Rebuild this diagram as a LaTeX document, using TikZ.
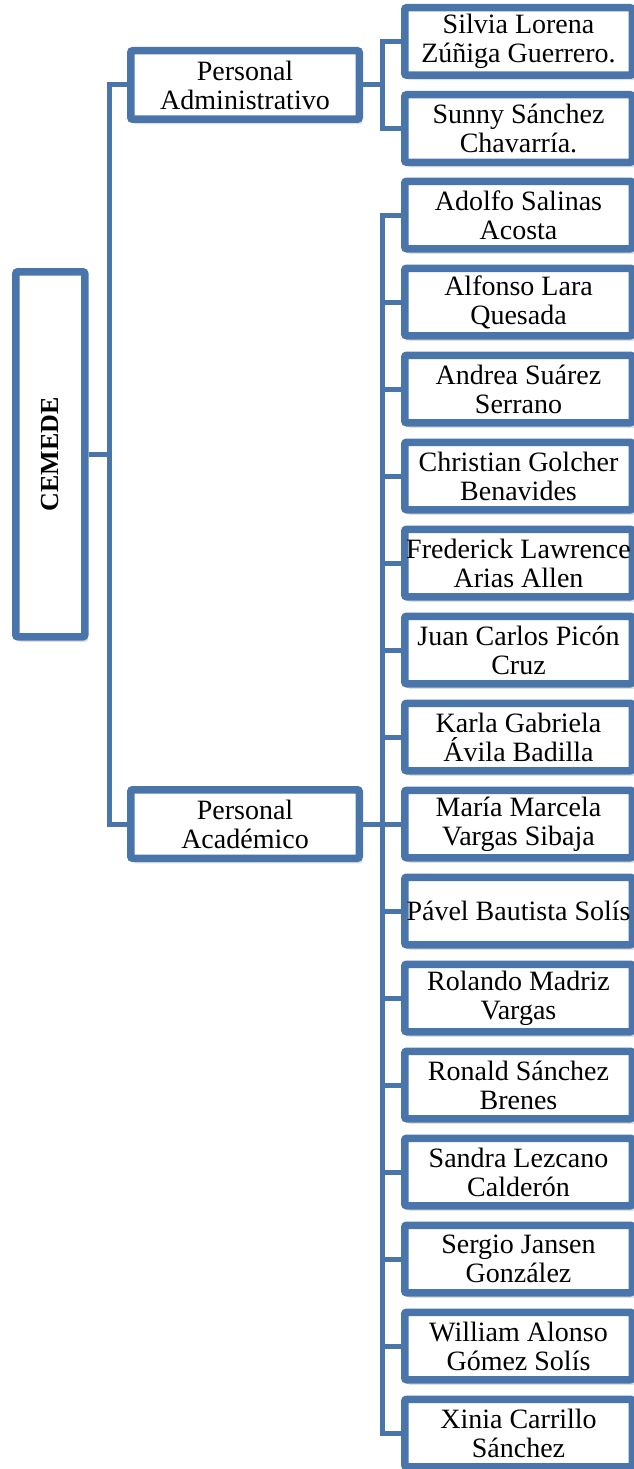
\documentclass[tikz,border=0pt]{standalone}
\usepackage{fontspec}
\setmainfont{Liberation Serif}
\usetikzlibrary{positioning, shadows}
\definecolor{boxblue}{RGB}{74,117,170}
\tikzset{box/.style={draw=boxblue, line width=7.5pt, fill=white, rounded corners=2pt, align=center, inner sep=0pt, font=\fontsize{28}{29}\selectfont, drop shadow={shadow xshift=3pt, shadow yshift=-5pt, opacity=0.25}},
	person/.style={box, minimum width=227.5pt, minimum height=67.5pt},
	group/.style={box, minimum width=228.5pt, minimum height=68.5pt},
	link/.style={draw=boxblue, line width=5pt}}

\begin{document}
\begin{tikzpicture}[x=1pt, y=1pt, node distance=12pt]
	\useasboundingbox (0,0) rectangle (634,-1469);
	% head of the chart
	\node[box, minimum width=69pt, minimum height=365pt] (CEMEDE) at (50.3,-454.3) {\rotatebox{90}{\fontsize{26}{28}\selectfont\bfseries CEMEDE}};
	\node[group] (Admin) at (245,-85) {Personal\\ Administrativo};
	% administrative staff
	\node[person] (Silvia) at (518.5,-41.5) {Silvia Lorena\\ Zúñiga Guerrero.};
	\node[person, below=of Silvia] (Sunny) {Sunny Sánchez\\ Chavarría.};
	% academic staff
	\node[person] (Adolfo) at (518.5,-215) {Adolfo Salinas\\ Acosta};
	\node[person, below=of Adolfo] (Alfonso) {Alfonso Lara\\ Quesada};
	\node[person, below=of Alfonso] (Andrea) {Andrea Suárez\\ Serrano};
	\node[person, below=of Andrea] (Christian) {Christian Golcher\\ Benavides};
	\node[person, below=of Christian] (Frederick) {Frederick Lawrence\\ Arias Allen};
	\node[person, below=of Frederick] (Juan) {Juan Carlos Picón\\ Cruz};
	\node[person, below=of Juan] (Karla) {Karla Gabriela\\ Ávila Badilla};
	\node[person, below=of Karla] (Maria) {María Marcela\\ Vargas Sibaja};
	\node[person, below=of Maria] (Pavel) {Pável Bautista Solís};
	\node[person, below=of Pavel] (Rolando) {Rolando Madriz\\ Vargas};
	\node[person, below=of Rolando] (Ronald) {Ronald Sánchez\\ Brenes};
	\node[person, below=of Ronald] (Sandra) {Sandra Lezcano\\ Calderón};
	\node[person, below=of Sandra] (Sergio) {Sergio Jansen\\ González};
	\node[person, below=of Sergio] (William) {William Alonso\\ Gómez Solís};
	\node[person, below=of William] (Xinia) {Xinia Carrillo\\ Sánchez};
	\node[group, left=38pt of Maria] (Acad) {Personal\\ Académico};

	\coordinate (spine) at (109,-454.3);
	\coordinate (forkA) at (382.5,-85);
	\coordinate (forkB) at (382.5,-824);

	\draw[link]
		(CEMEDE.east) -- (spine)
		(Admin.west) -| (spine) |- (Acad.west)
		(Admin.east) -- (forkA)
		(Silvia.west) -| (forkA) |- (Sunny.west)
		(Acad.east) -- (Maria.west)
		(Adolfo.west) -| (forkB) |- (Xinia.west)
		(forkB |- Alfonso.west) -- (Alfonso.west)
		(forkB |- Andrea.west) -- (Andrea.west)
		(forkB |- Christian.west) -- (Christian.west)
		(forkB |- Frederick.west) -- (Frederick.west)
		(forkB |- Juan.west) -- (Juan.west)
		(forkB |- Karla.west) -- (Karla.west)
		(forkB |- Pavel.west) -- (Pavel.west)
		(forkB |- Rolando.west) -- (Rolando.west)
		(forkB |- Ronald.west) -- (Ronald.west)
		(forkB |- Sandra.west) -- (Sandra.west)
		(forkB |- Sergio.west) -- (Sergio.west)
		(forkB |- William.west) -- (William.west);
\end{tikzpicture}
\end{document}
